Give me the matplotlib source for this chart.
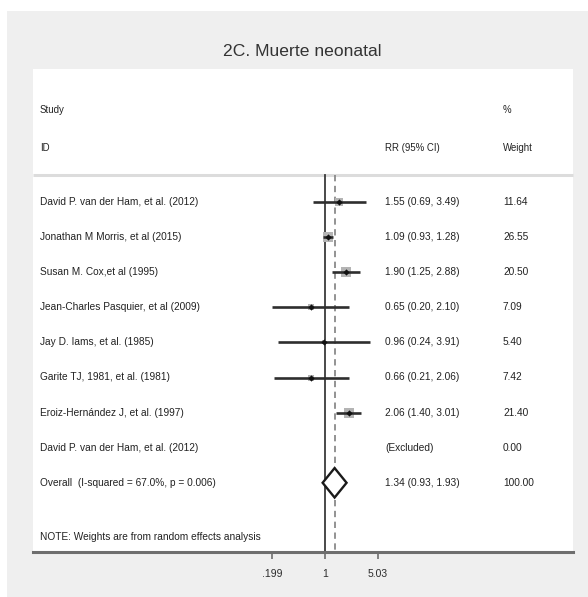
import numpy as np
import matplotlib
matplotlib.use("Agg")
import matplotlib.pyplot as plt
from matplotlib.patches import Rectangle, Polygon
import matplotlib.transforms as mtransforms

plt.rcParams['font.family'] = ['Liberation Sans Narrow', 'Liberation Sans', 'DejaVu Sans']

# ---- data ----
studies = [
    "David P. van der Ham, et al. (2012)",
    "Jonathan M Morris, et al (2015)",
    "Susan M. Cox,et al (1995)",
    "Jean-Charles Pasquier, et al (2009)",
    "Jay D. Iams, et al. (1985)",
    "Garite TJ, 1981, et al. (1981)",
    "Eroiz-Hernández J, et al. (1997)",
    "David P. van der Ham, et al. (2012)",
]
rr = [1.55, 1.09, 1.90, 0.65, 0.96, 0.66, 2.06, np.nan]
ci_low = [0.69, 0.93, 1.25, 0.20, 0.24, 0.21, 1.40, np.nan]
ci_high = [3.49, 1.28, 2.88, 2.10, 3.91, 2.06, 3.01, np.nan]
weights = [11.64, 26.55, 20.50, 7.09, 5.40, 7.42, 21.40, 0.00]

overall_label = "Overall  (I-squared = 67.0%, p = 0.006)"
overall_rr, overall_low, overall_high = 1.34, 0.93, 1.93
overall_weight = 100.00

tick_values = [0.199, 1, 5.03]
tick_labels = [".199", "1", "5.03"]

title = "2C. Muerte neonatal"
note = "NOTE: Weights are from random effects analysis"

# ---- figure ----
W, H = 588, 597
fig = plt.figure(figsize=(W / 100, H / 100), dpi=100)
fig.patch.set_facecolor("white")

# light grey backdrop
fig.patches.append(Rectangle((7 / W, 0), 1 - 7 / W, 1 - 11 / H,
                             transform=fig.transFigure, facecolor="#efefef",
                             edgecolor="none", zorder=-10))

# white plotting panel
px_left, px_right, px_top, px_bottom = 33, 573, 69, 552
ax = fig.add_axes([px_left / W, 1 - px_bottom / H,
                   (px_right - px_left) / W, (px_bottom - px_top) / H])
ax.set_facecolor("white")
ax.set_xscale("log")

# x: 1 sits at pixel 325, 32.8 px per log unit
k = 32.8
x0 = 325
ax.set_xlim(np.exp((px_left - x0) / k), np.exp((px_right - x0) / k))
# y: rows 1..9 at 35.1 px spacing, first row at pixel 202
row_px = 35.1
y_first = 202
ax.set_ylim(1 + (px_bottom - y_first) / row_px, 1 + (px_top - y_first) / row_px)

for s in ["top", "right", "left"]:
    ax.spines[s].set_visible(False)
ax.spines["bottom"].set_color("#6e6e6e")
ax.spines["bottom"].set_linewidth(2.2)
ax.set_yticks([])
ax.set_xticks(tick_values)
ax.set_xticklabels(tick_labels)
ax.xaxis.set_minor_locator(matplotlib.ticker.NullLocator())
ax.tick_params(axis="x", direction="out", length=5, width=1.2, color="#6e6e6e",
               labelsize=7.5, labelcolor="#2b2b2b", pad=7)

text_color = "#222222"
fs = 7.25
fs_hdr = 6.9
tr = mtransforms.blended_transform_factory(ax.transAxes, ax.transData)
col_study = (40 - px_left) / (px_right - px_left)
col_rr = (385 - px_left) / (px_right - px_left)
col_w = (503 - px_left) / (px_right - px_left)

y_study_hdr = 1 + (110 - y_first) / row_px
y_id_hdr = 1 + (148 - y_first) / row_px
y_sep = 1 + (175 - y_first) / row_px
y_note = 1 + (537 - y_first) / row_px

for xc, yc, s in [(col_study, y_study_hdr, "Study"), (col_w, y_study_hdr, "%"),
                  (col_study, y_id_hdr, "ID"), (col_rr, y_id_hdr, "RR (95% CI)"),
                  (col_w, y_id_hdr, "Weight")]:
    ax.text(xc, yc, s, transform=tr, fontsize=fs_hdr, color=text_color,
            va="center", ha="left")

# header separator
ax.plot([0, 1], [y_sep, y_sep], transform=tr, color="#dcdcdc", lw=2.2,
        solid_capstyle="butt", clip_on=False)

# reference lines
y_lo_axes = ax.get_ylim()[0]
ax.plot([1, 1], [y_sep, y_lo_axes], color="#3a3a3a", lw=1.3, zorder=2)
ax.plot([overall_rr, overall_rr], [y_sep, y_lo_axes], color="#8a8a8a",
        lw=1.3, ls=(0, (3.5, 2.5)), zorder=2)

# studies
rows = np.arange(1, len(studies) + 1)
for y, name, est, lo, hi, w in zip(rows, studies, rr, ci_low, ci_high, weights):
    ax.text(col_study, y, name, transform=tr, fontsize=fs, color=text_color,
            va="center", ha="left")
    ax.text(col_w, y, f"{w:.2f}", transform=tr, fontsize=fs, color=text_color,
            va="center", ha="left")
    if np.isnan(est):
        ax.text(col_rr, y, "(Excluded)", transform=tr, fontsize=fs,
                color=text_color, va="center", ha="left")
        continue
    ax.text(col_rr, y, f"{est:.2f} ({lo:.2f}, {hi:.2f})", transform=tr,
            fontsize=fs, color=text_color, va="center", ha="left")
    side = 2.1 * np.sqrt(w)  # box area proportional to weight (pixels)
    ax.plot([est], [y], marker="s", markersize=side * 0.72, color="#b4b4b4",
            markeredgewidth=0, zorder=3)
    ax.plot([lo, hi], [y, y], color="#2e2e2e", lw=1.9, zorder=4,
            solid_capstyle="butt")
    ax.plot([est], [y], marker="D", markersize=3.2, color="#111111",
            markeredgewidth=0, zorder=5)

# overall
yo = len(studies) + 1
ax.text(col_study, yo, overall_label, transform=tr, fontsize=fs,
        color=text_color, va="center", ha="left")
ax.text(col_rr, yo, f"{overall_rr:.2f} ({overall_low:.2f}, {overall_high:.2f})",
        transform=tr, fontsize=fs, color=text_color, va="center", ha="left")
ax.text(col_w, yo, f"{overall_weight:.2f}", transform=tr, fontsize=fs,
        color=text_color, va="center", ha="left")
dh = 0.42
ax.add_patch(Polygon([[overall_low, yo], [overall_rr, yo - dh],
                      [overall_high, yo], [overall_rr, yo + dh]],
                     closed=True, facecolor="white", edgecolor="#1a1a1a",
                     lw=1.7, zorder=6))

ax.text(col_study, y_note, note, transform=tr, fontsize=fs,
        color=text_color, va="center", ha="left")

fig.text(302 / W, 1 - 52 / H, title, fontsize=12.6, color="#333333",
         ha="center", va="center")

fig.savefig("out.png", dpi=100)
